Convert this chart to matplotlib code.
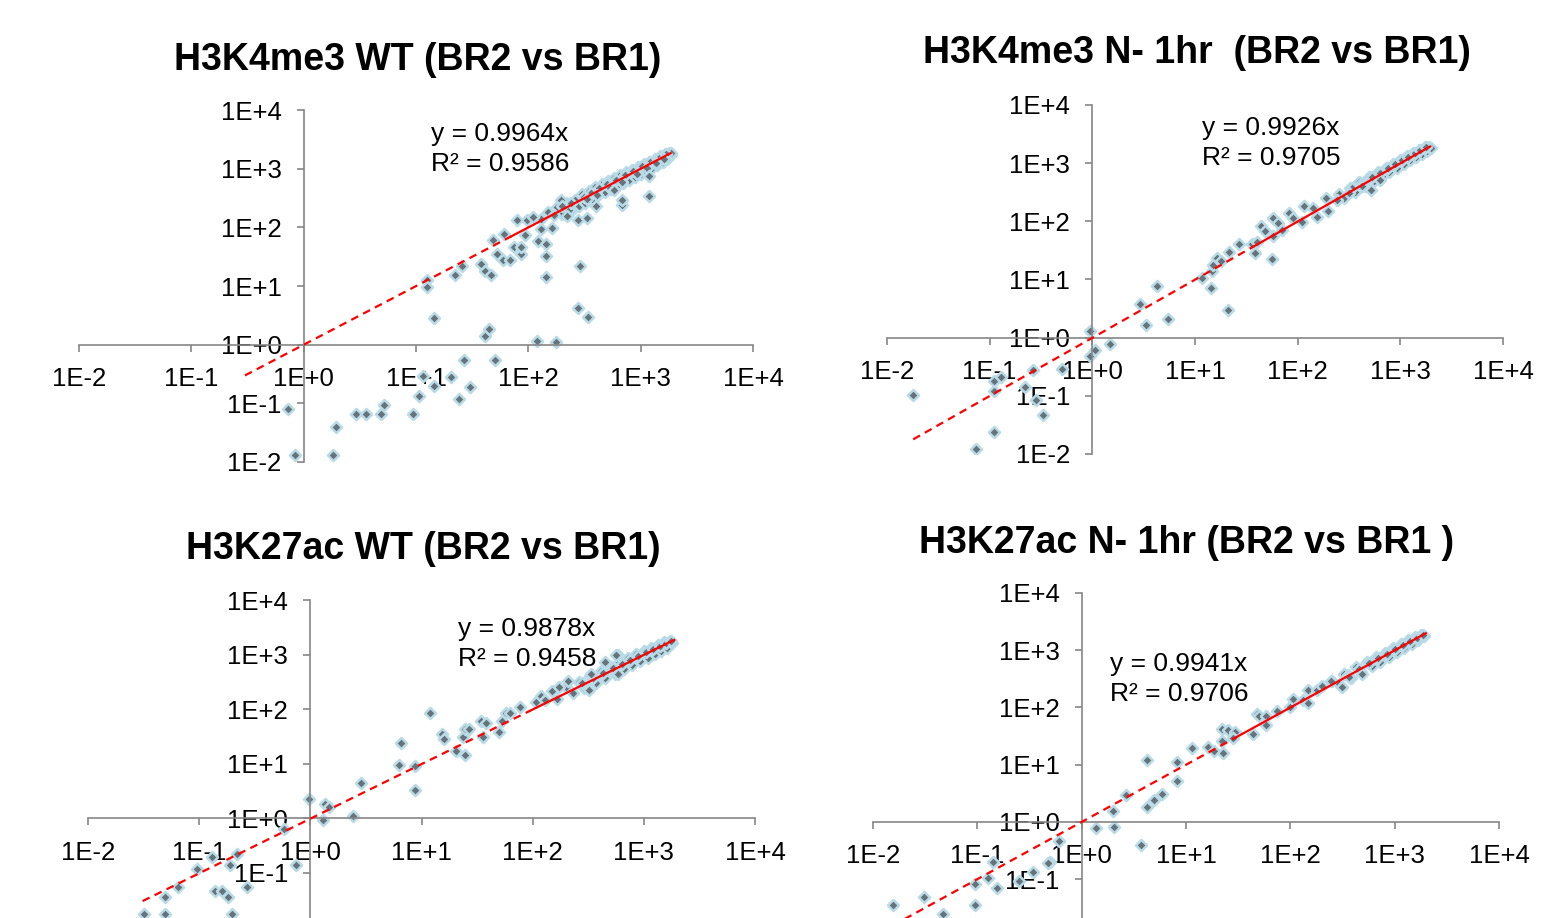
import matplotlib
matplotlib.use('Agg')
import matplotlib.pyplot as plt

plt.rcParams['font.family'] = ['Liberation Sans', 'DejaVu Sans']

tick_vals = [1e-2, 1e-1, 1e0, 1e1, 1e2, 1e3, 1e4]
tick_labels = ['1E-2', '1E-1', '1E+0', '1E+1', '1E+2', '1E+3', '1E+4']

titles = ['H3K4me3 WT (BR2 vs BR1)', 'H3K4me3 N- 1hr  (BR2 vs BR1)',
          'H3K27ac WT (BR2 vs BR1)', 'H3K27ac N- 1hr (BR2 vs BR1 )']
slopes = [0.9964, 0.9926, 0.9878, 0.9941]
r_squared = [0.9586, 0.9705, 0.9458, 0.9706]
# trendline: start x, where the dash turns solid, end x
trend_x = [[0.3, 70, 1850], [0.018, 38, 1950], [0.031, 95, 1880], [0.012, 30, 1990]]

# H3K4me3 WT
k4_wt_x = [0.73, 0.84, 1.93, 1.84, 2.95, 3.56, 4.85, 5.2, 9.5, 10.6, 14.5, 11.6, 20.4,
           23.9, 30.3, 26.8, 50.6, 40.9, 45, 119, 177, 274, 343, 14.5, 12.6, 12.5, 22.2,
           25.5, 37.7, 41.2, 46.3, 48.2, 53, 60, 60.8, 68, 74.6, 79, 85.6, 85.6, 97, 93,
           122, 143, 143, 145, 129, 161, 289, 274, 331, 398, 580, 689, 689, 1189, 1189,
           231, 219, 194, 150, 170, 200, 240, 130, 110]
k4_wt_y = [0.08, 0.0134, 0.04, 0.0134, 0.066, 0.066, 0.066, 0.094, 0.066, 0.135, 0.2,
           0.296, 0.28, 0.12, 0.19, 0.55, 0.55, 1.39, 1.87, 1.14, 1.11, 4.2, 2.96, 2.85,
           12.8, 9.5, 15.2, 21.6, 23.7, 17.8, 15.2, 61.5, 35, 28, 78, 28, 47, 131, 35, 47,
           134, 75, 57.5, 52.5, 32.8, 14.2, 94, 97, 22.2, 131, 144, 233, 425, 243, 295,
           345, 757, 199, 153, 295, 180, 160, 230, 260, 140, 150]
k4_wt_band_x = [180, 200, 220, 240, 260, 280, 300, 320, 345, 370, 395, 420, 450, 480, 510,
                545, 580, 620, 660, 700, 745, 790, 840, 890, 945, 1000, 1060, 1120, 1190,
                1260, 1330, 1410, 1490, 1570, 1650, 1730, 1800, 1850, 1870,
                310, 360, 430, 500, 600, 720, 860, 1030, 1220, 1450, 1690,
                335, 410, 530, 680, 920, 1150, 1370, 1610]
k4_wt_band_y = [225, 170, 265, 190, 295, 230, 365, 265, 420, 305, 480, 350, 540, 395, 610,
                450, 690, 510, 780, 570, 870, 640, 960, 720, 1070, 820, 1190, 920, 1320,
                1040, 1460, 1170, 1620, 1320, 1780, 1480, 1880, 1700, 1820,
                330, 385, 460, 540, 650, 780, 930, 1110, 1310, 1550, 1800,
                300, 360, 470, 600, 820, 1030, 1230, 1450]

# H3K4me3 N- 1hr
k4_n_x = [0.018, 0.074, 0.111, 0.111, 0.111, 0.13, 0.22, 0.265, 0.283, 0.33, 0.51, 0.94,
          0.94, 1.07, 1.47, 2.9, 3.36, 4.3, 5.4, 11.8, 14.3, 14.6, 15, 16.5, 18, 21, 21.6,
          26.8, 36, 38.5, 40, 43.6, 48, 55.7, 57, 57, 64, 71, 82, 91, 110, 115, 141, 156,
          196, 187, 240, 318, 425, 517, 630]
k4_n_y = [0.105, 0.012, 0.024, 0.12, 0.18, 0.21, 0.142, 0.28, 0.086, 0.047, 0.29, 0.49,
          1.28, 0.62, 0.79, 3.8, 1.67, 7.6, 2.1, 10.6, 7.1, 13.8, 17.5, 23.4, 21, 3.0, 29.7,
          41, 41, 28.5, 45, 82, 67, 22.5, 55, 114, 94, 71, 139, 114, 99, 180, 170, 120,
          148, 252, 236, 302, 400, 350, 516]
k4_n_band_x = [250, 280, 320, 360, 400, 450, 500, 550, 600, 660, 720, 780, 850, 920, 1000,
               1080, 1160, 1250, 1340, 1430, 1520, 1620, 1720, 1820, 1920, 2000,
               340, 425, 525, 630, 750, 885, 1040, 1200, 1390, 1570, 1770]
k4_n_band_y = [300, 255, 380, 320, 470, 410, 580, 490, 700, 590, 830, 700, 980, 820, 1150,
               960, 1320, 1120, 1500, 1280, 1680, 1450, 1880, 1640, 1900, 1850,
               370, 460, 570, 690, 820, 960, 1120, 1290, 1490, 1680, 1880]

# H3K27ac WT
k27_wt_x = [0.98, 1.36, 1.48, 1.31, 2.4, 0.58, 0.74, 0.22, 0.13, 0.096, 0.19, 0.27, 0.14,
            0.16, 0.18, 0.065, 0.049, 0.049, 0.032, 0.196, 2.84, 6.5, 6.3, 8.8, 8.8, 12,
            15.2, 16, 20.3, 23.4, 24.5, 24.5, 26.5, 34, 35.5, 38, 50, 53, 57.6, 63, 77,
            107, 118, 129, 150, 166, 174, 210, 320, 336, 590, 590, 447, 323, 560]
k27_wt_y = [2.3, 1.86, 1.61, 0.92, 1.13, 0.65, 0.138, 0.22, 0.2, 0.12, 0.138, 0.055, 0.047,
            0.047, 0.036, 0.055, 0.037, 0.018, 0.018, 0.018, 4.5, 24, 9.7, 9.0, 3.35, 85,
            34.5, 28, 17, 31, 44, 14.8, 43, 62, 31, 57, 38, 62, 85, 85, 112, 134, 178, 145,
            220, 155, 250, 333, 237, 445, 967, 445, 725, 228, 1000]
k27_wt_band_x = [200, 230, 260, 290, 330, 370, 410, 450, 500, 550, 600, 660, 720, 780, 850,
                 920, 1000, 1080, 1160, 1250, 1340, 1430, 1520, 1620, 1720, 1800,
                 275, 350, 430, 525, 630, 750, 885, 1040, 1205, 1385, 1570, 1760]
k27_wt_band_y = [260, 200, 320, 240, 410, 300, 510, 370, 620, 450, 740, 540, 880, 640, 1020,
                 760, 1180, 880, 1330, 1020, 1500, 1170, 1680, 1330, 1800, 1650,
                 300, 370, 460, 560, 670, 800, 940, 1100, 1270, 1450, 1640, 1780]

# H3K27ac N- 1hr
k27_n_x = [0.0157, 0.031, 0.047, 0.094, 0.094, 0.126, 0.142, 0.155, 0.5, 0.6, 0.48, 0.34,
           0.25, 1.36, 2.04, 2.0, 2.65, 3.7, 4.2, 4.9, 4.26, 5.9, 8.2, 8.2, 11.4, 16.4,
           18.6, 22, 22, 22.6, 25, 29.5, 28, 44, 48, 50, 59, 59, 75, 100, 105, 133, 147,
           147, 181, 200, 245, 315, 365, 490]
k27_n_y = [0.035, 0.048, 0.024, 0.035, 0.083, 0.106, 0.195, 0.071, 0.195, 0.46, 0.19,
           0.134, 0.093, 0.78, 0.82, 1.56, 2.9, 0.39, 1.83, 2.4, 12.2, 3.05, 11.3, 5.2,
           19.4, 20, 17, 41.7, 26.3, 15.8, 40, 36.5, 29.5, 34, 76, 71, 71, 50, 87, 100,
           142, 133, 204, 117, 198, 240, 293, 229, 340, 390]
k27_n_band_x = [250, 290, 330, 380, 430, 480, 540, 600, 660, 730, 800, 880, 960, 1050, 1140,
                1240, 1340, 1450, 1560, 1680, 1800, 1900,
                355, 455, 570, 695, 840, 1005, 1190, 1395, 1620, 1850]
k27_n_band_y = [290, 255, 380, 330, 500, 420, 610, 520, 760, 630, 900, 770, 1080, 920, 1270,
                1090, 1480, 1270, 1700, 1480, 1860, 1780,
                370, 470, 590, 720, 870, 1040, 1230, 1440, 1660, 1830]

panel_x = [k4_wt_band_x + k4_wt_x, k4_n_band_x + k4_n_x,
           k27_wt_band_x + k27_wt_x, k27_n_band_x + k27_n_x]
panel_y = [k4_wt_band_y + k4_wt_y, k4_n_band_y + k4_n_y,
           k27_wt_band_y + k27_wt_y, k27_n_band_y + k27_n_y]

W, H = 1550, 918
# axes boxes in pixels: left, right, top (1E+4), bottom (1E-2)
boxes = [(79, 753, 110, 462), (887, 1503, 105, 454),
         (88, 755, 600, 927.6), (873, 1499, 593, 936.2)]
title_pos = [(418, 60), (1197, 53), (423, 549), (1187, 543)]
eq_pos = [(431, 134), (1202, 128), (458, 629), (1110, 664)]

axis_grey = '#868686'

fig = plt.figure(figsize=(W / 100, H / 100), dpi=100)

for i in range(4):
    l, r, t, b = boxes[i]
    ax = fig.add_axes([l / W, 1 - b / H, (r - l) / W, (b - t) / H])
    ax.set_xscale('log')
    ax.set_yscale('log')
    ax.set_xlim(1e-2, 1e4)
    ax.set_ylim(1e-2, 1e4)
    ax.patch.set_visible(False)

    ax.scatter(panel_x[i], panel_y[i], marker='D', s=32, facecolor='#66737a',
               edgecolor='#b8dbe7', linewidths=1.8, zorder=2)

    x0, xs, x1 = trend_x[i]
    ax.plot([x0, xs], [slopes[i] * x0, slopes[i] * xs], color='#ff0000', lw=1.6,
            dashes=(3.5, 2.5), zorder=3)
    ax.plot([xs, x1], [slopes[i] * xs, slopes[i] * x1], color='#ff0000', lw=1.6, zorder=3)

    for side in ['top', 'right']:
        ax.spines[side].set_visible(False)
    for side in ['left', 'bottom']:
        ax.spines[side].set_position(('data', 1))
        ax.spines[side].set_color(axis_grey)
        ax.spines[side].set_linewidth(1.2)

    ax.set_xticks(tick_vals)
    ax.set_xticklabels(tick_labels)
    ax.set_yticks(tick_vals)
    # the lowest label of the bottom row falls below the picture
    ylabels = tick_labels if i < 2 else [''] + tick_labels[1:]
    ax.set_yticklabels(ylabels)
    ax.minorticks_off()
    ax.tick_params(direction='out', length=5, width=1.2, color=axis_grey,
                   labelsize=18.5, labelcolor='black')
    ax.tick_params(axis='x', pad=11)
    ax.tick_params(axis='y', pad=11)

    tx, ty = title_pos[i]
    fig.text(tx / W, 1 - ty / H, titles[i], ha='center', va='center',
             fontsize=27, fontweight='bold')
    ex, ey = eq_pos[i]
    fig.text(ex / W, 1 - ey / H, 'y = %.4fx' % slopes[i], ha='left', va='center',
             fontsize=19)
    fig.text(ex / W, 1 - (ey + 30) / H, 'R² = %.4f' % r_squared[i], ha='left',
             va='center', fontsize=19)

fig.savefig('out.png', dpi=100)
